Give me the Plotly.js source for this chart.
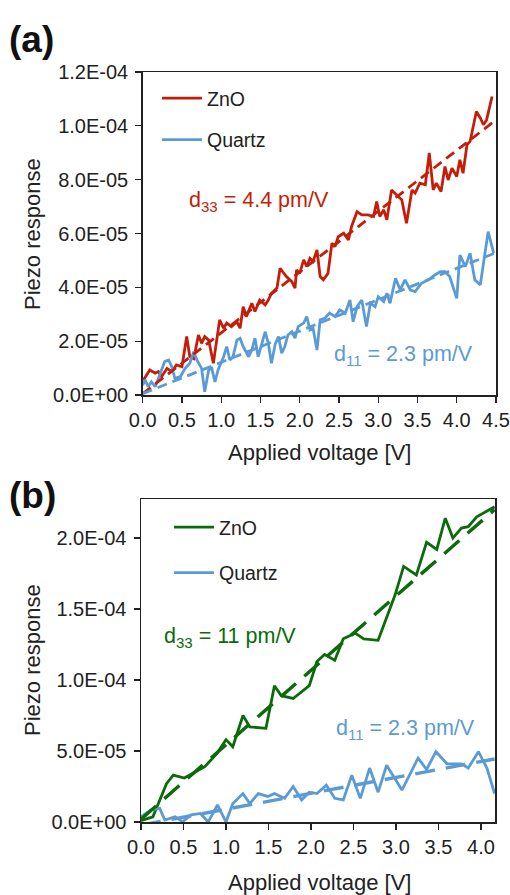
<!DOCTYPE html>
<html>
<head>
<meta charset="utf-8">
<script src="https://cdn.plot.ly/plotly-3.0.1.min.js"></script>
<style>
  html, body { margin: 0; padding: 0; background: #fff; }
  #chart { width: 510px; height: 895px; }
</style>
</head>
<body>
<div id="chart"></div>
<script>
// ---------- Panel (a) data ----------
const znoA_V = [0.01,0.09,0.16,0.2,0.24,0.31,0.37,0.43,0.5,0.56,0.6,0.65,0.71,0.75,0.79,0.84,0.9,0.98,1.03,1.07,1.13,1.2,1.24,1.28,1.32,1.39,1.43,1.49,1.56,1.6,1.64,1.71,1.75,1.83,1.9,1.94,1.96,2.0,2.05,2.09,2.13,2.17,2.22,2.26,2.3,2.36,2.41,2.45,2.49,2.56,2.62,2.66,2.73,2.79,2.87,2.94,2.98,3.02,3.07,3.11,3.17,3.24,3.3,3.36,3.43,3.47,3.53,3.6,3.65,3.7,3.74,3.8,3.85,3.89,3.94,4.0,4.04,4.08,4.13,4.17,4.25,4.3,4.34,4.38,4.45];
const znoA_R = [0.56e-5,0.93e-5,0.81e-5,0.87e-5,0.68e-5,0.99e-5,0.87e-5,1.12e-5,1.05e-5,2.17e-5,1.42e-5,1.35e-5,2.23e-5,1.92e-5,2.17e-5,2.04e-5,1.18e-5,2.79e-5,2.48e-5,2.67e-5,2.54e-5,2.72e-5,2.48e-5,3.28e-5,2.91e-5,3.41e-5,3.1e-5,3.53e-5,3.35e-5,3.53e-5,3.78e-5,3.97e-5,4.71e-5,4.4e-5,4.21e-5,3.97e-5,4.65e-5,4.52e-5,5.02e-5,4.77e-5,5.08e-5,4.96e-5,5.39e-5,4.4e-5,4.28e-5,4.52e-5,5.64e-5,5.51e-5,5.88e-5,6.01e-5,5.76e-5,6.26e-5,6.81e-5,6.69e-5,6.69e-5,6.63e-5,7.19e-5,6.63e-5,6.88e-5,6.51e-5,7.62e-5,7.43e-5,7.25e-5,6.38e-5,7.62e-5,7.5e-5,7.87e-5,7.81e-5,8.99e-5,7.62e-5,7.87e-5,7.56e-5,8.49e-5,7.99e-5,8.43e-5,8.12e-5,8.74e-5,8.24e-5,9.29e-5,9.42e-5,10.53e-5,10.29e-5,10.04e-5,10.22e-5,11.09e-5];
const qzA_V = [0.0,0.03,0.07,0.11,0.16,0.22,0.28,0.33,0.37,0.41,0.48,0.54,0.6,0.65,0.69,0.75,0.79,0.84,0.88,0.92,0.96,1.03,1.07,1.11,1.15,1.2,1.24,1.28,1.35,1.39,1.43,1.47,1.52,1.56,1.6,1.64,1.69,1.73,1.77,1.81,1.85,1.9,1.94,1.98,2.05,2.09,2.13,2.17,2.22,2.26,2.32,2.38,2.45,2.51,2.58,2.64,2.68,2.73,2.79,2.85,2.9,2.96,3.0,3.07,3.11,3.15,3.22,3.28,3.34,3.41,3.47,3.55,3.64,3.72,3.79,3.85,3.91,4.0,4.04,4.11,4.17,4.23,4.3,4.34,4.4,4.47];
const qzA_R = [0.37e-5,0.56e-5,0.31e-5,0.49e-5,0.31e-5,0.81e-5,1.24e-5,1.3e-5,1.05e-5,0.62e-5,0.68e-5,0.99e-5,1.18e-5,1.61e-5,1.3e-5,0.99e-5,0.12e-5,0.93e-5,0.99e-5,0.49e-5,0.93e-5,1.42e-5,1.8e-5,1.3e-5,1.42e-5,2.04e-5,2.11e-5,1.8e-5,1.42e-5,1.67e-5,2.11e-5,1.42e-5,1.98e-5,2.35e-5,1.92e-5,1.18e-5,1.92e-5,2.17e-5,1.55e-5,1.8e-5,2.23e-5,2.35e-5,2.11e-5,2.54e-5,2.67e-5,2.91e-5,2.42e-5,2.48e-5,1.67e-5,2.79e-5,2.85e-5,3.04e-5,2.91e-5,3.16e-5,3.04e-5,3.53e-5,2.72e-5,3.28e-5,3.53e-5,2.54e-5,3.41e-5,3.28e-5,3.65e-5,3.47e-5,3.78e-5,3.41e-5,4.34e-5,3.9e-5,4.28e-5,3.9e-5,3.84e-5,4.15e-5,4.28e-5,4.46e-5,4.58e-5,4.58e-5,4.4e-5,3.59e-5,5.2e-5,4.77e-5,5.27e-5,4.28e-5,4.09e-5,4.96e-5,6.07e-5,5.27e-5];
const fitA_V = [0, 4.5];
const fitZnoA = [0.05e-5, 10.22e-5];
const fitQzA = [0.05e-5, 5.29e-5];

// ---------- Panel (b) data ----------
const znoB_V = [0,0.14,0.3,0.38,0.51,0.75,0.89,1.0,1.08,1.2,1.28,1.47,1.57,1.65,1.79,1.98,2.07,2.16,2.28,2.38,2.52,2.62,2.79,2.99,3.09,3.24,3.36,3.48,3.58,3.67,3.77,3.85,3.95,4.16];
const znoB_R = [0.1e-5,0.37e-5,2.7e-5,3.3e-5,3.1e-5,3.9e-5,4.8e-5,5.8e-5,5.3e-5,7.5e-5,6.7e-5,6.6e-5,9.6e-5,8.9e-5,8.7e-5,9.6e-5,11.3e-5,11.8e-5,11.4e-5,12.9e-5,13.3e-5,12.9e-5,12.8e-5,16.0e-5,18.0e-5,17.4e-5,19.7e-5,19.2e-5,21.4e-5,20.0e-5,20.7e-5,20.8e-5,21.5e-5,22.2e-5];
const qzB_V = [0,0.12,0.22,0.28,0.4,0.49,0.59,0.7,0.79,0.9,1.0,1.08,1.2,1.28,1.38,1.49,1.57,1.69,1.79,1.89,1.98,2.07,2.18,2.28,2.38,2.48,2.58,2.69,2.79,2.89,3.07,3.26,3.36,3.47,3.6,3.77,3.85,3.97,4.07,4.16];
const qzB_R = [0.37e-5,0.85e-5,0.96e-5,0.14e-5,0.37e-5,0.02e-5,0.5e-5,0.6e-5,0.0,1.2e-5,0.0,1.3e-5,2.0e-5,1.3e-5,2.0e-5,1.8e-5,2.0e-5,1.67e-5,2.5e-5,1.55e-5,2.1e-5,2.0e-5,2.6e-5,1.67e-5,1.55e-5,3.3e-5,1.67e-5,3.8e-5,2.1e-5,4.0e-5,2.25e-5,4.5e-5,3.7e-5,4.95e-5,4.1e-5,4.1e-5,3.8e-5,4.95e-5,3.8e-5,2.0e-5];
const fitB_V = [0, 4.16];
const fitZnoB = [0.2e-5, 22.0e-5];
const fitQzB = [-0.22e-5, 4.44e-5];

// ---------- Tick labels ----------
const yTickValsA = [0, 2e-5, 4e-5, 6e-5, 8e-5, 1.0e-4, 1.2e-4];
const yTickTextA = ["0.0E+00","2.0E-05","4.0E-05","6.0E-05","8.0E-05","1.0E-04","1.2E-04"];
const yTickValsB = [0, 5e-5, 1.0e-4, 1.5e-4, 2.0e-4];
const yTickTextB = ["0.0E+00","5.0E-05","1.0E-04","1.5E-04","2.0E-04"];

const RED = "#C41E0A", BLUE = "#5B9BD5", GREEN = "#0B6B0B";
const FONT = "Liberation Sans, Arial, sans-serif";

const traces = [
  {x: znoA_V, y: znoA_R, mode: "lines", name: "ZnO", line: {color: RED, width: 2.8}, xaxis: "x", yaxis: "y", legend: "legend", legendgroup: "a1"},
  {x: qzA_V, y: qzA_R, mode: "lines", name: "Quartz", line: {color: BLUE, width: 2.8}, xaxis: "x", yaxis: "y", legend: "legend", legendgroup: "a2"},
  {x: fitA_V, y: fitZnoA, mode: "lines", showlegend: false, line: {color: RED, width: 2.8, dash: "10px,6px"}, xaxis: "x", yaxis: "y"},
  {x: fitA_V, y: fitQzA, mode: "lines", showlegend: false, line: {color: BLUE, width: 2.8, dash: "10px,6px"}, xaxis: "x", yaxis: "y"},
  {x: znoB_V, y: znoB_R, mode: "lines", name: "ZnO", line: {color: GREEN, width: 2.8}, xaxis: "x2", yaxis: "y2", legend: "legend2", legendgroup: "b1"},
  {x: qzB_V, y: qzB_R, mode: "lines", name: "Quartz", line: {color: BLUE, width: 2.8}, xaxis: "x2", yaxis: "y2", legend: "legend2", legendgroup: "b2"},
  {x: fitB_V, y: fitZnoB, mode: "lines", showlegend: false, line: {color: GREEN, width: 3.4, dash: "20px,11px"}, xaxis: "x2", yaxis: "y2"},
  {x: fitB_V, y: fitQzB, mode: "lines", showlegend: false, line: {color: BLUE, width: 3.4, dash: "20px,11px"}, xaxis: "x2", yaxis: "y2"}
];

const W = 510, H = 895;
const px = v => v / W;
const py = v => 1 - v / H;

const axCommon = {
  showline: true, linecolor: "#222", linewidth: 1.5, mirror: true,
  ticks: "outside", ticklen: 6, tickwidth: 1.3, tickcolor: "#222",
  showgrid: false, zeroline: false, fixedrange: true,
  tickfont: {family: FONT, size: 20, color: "#222"}
};

const layout = {
  width: W, height: H,
  margin: {l: 0, r: 0, t: 0, b: 0},
  paper_bgcolor: "#fff", plot_bgcolor: "#fff",
  font: {family: FONT, color: "#222"},
  xaxis: Object.assign({}, axCommon, {domain: [px(142.7), px(496)], range: [0, 4.5], dtick: 0.5, tick0: 0, tickformat: ".1f", anchor: "y", ticklabelstandoff: 0}),
  yaxis: Object.assign({}, axCommon, {domain: [py(395), py(72)], range: [0, 1.2e-4], tickvals: yTickValsA, ticktext: yTickTextA, anchor: "x", ticklabelstandoff: 3}),
  xaxis2: Object.assign({}, axCommon, {domain: [px(141), px(495)], range: [0, 4.165], dtick: 0.5, tick0: 0, tickformat: ".1f", anchor: "y2", ticklabelstandoff: 0}),
  yaxis2: Object.assign({}, axCommon, {domain: [py(822), py(499)], range: [0, 2.275e-4], tickvals: yTickValsB, ticktext: yTickTextB, anchor: "x2", ticklabelstandoff: 3}),
  showlegend: true,
  legend: {x: px(157), y: py(79), xanchor: "left", yanchor: "top", bgcolor: "rgba(0,0,0,0)",
           font: {family: FONT, size: 19.5, color: "#222"}, tracegroupgap: 13, itemwidth: 40},
  legend2: {x: px(169), y: py(508), xanchor: "left", yanchor: "top", bgcolor: "rgba(0,0,0,0)",
           font: {family: FONT, size: 19.5, color: "#222"}, tracegroupgap: 17, itemwidth: 40},
  annotations: [
    {text: "<b>(a)</b>", x: px(7), y: py(40), xref: "paper", yref: "paper", xanchor: "left", yanchor: "middle", showarrow: false, font: {family: FONT, size: 37, color: "#111"}},
    {text: "<b>(b)</b>", x: px(7), y: py(495), xref: "paper", yref: "paper", xanchor: "left", yanchor: "middle", showarrow: false, font: {family: FONT, size: 37, color: "#111"}},
    {text: "Piezo response", x: px(32), y: py(234), xref: "paper", yref: "paper", xanchor: "center", yanchor: "middle", textangle: -90, showarrow: false, font: {family: FONT, size: 22, color: "#222"}},
    {text: "Piezo response", x: px(32), y: py(660), xref: "paper", yref: "paper", xanchor: "center", yanchor: "middle", textangle: -90, showarrow: false, font: {family: FONT, size: 22, color: "#222"}},
    {text: "Applied voltage [V]", x: px(319), y: py(452), xref: "paper", yref: "paper", xanchor: "center", yanchor: "middle", showarrow: false, font: {family: FONT, size: 22, color: "#222"}},
    {text: "Applied voltage [V]", x: px(319), y: py(882), xref: "paper", yref: "paper", xanchor: "center", yanchor: "middle", showarrow: false, font: {family: FONT, size: 22, color: "#222"}},
    {text: "d<sub>33</sub> = 4.4 pm/V", x: px(187), y: py(201), xref: "paper", yref: "paper", xanchor: "left", yanchor: "middle", showarrow: false, font: {family: FONT, size: 21.5, color: RED}},
    {text: "d<sub>11</sub> = 2.3 pm/V", x: px(332), y: py(355), xref: "paper", yref: "paper", xanchor: "left", yanchor: "middle", showarrow: false, font: {family: FONT, size: 21.5, color: BLUE}},
    {text: "d<sub>33</sub> = 11 pm/V", x: px(162), y: py(637), xref: "paper", yref: "paper", xanchor: "left", yanchor: "middle", showarrow: false, font: {family: FONT, size: 21.5, color: GREEN}},
    {text: "d<sub>11</sub> = 2.3 pm/V", x: px(334), y: py(729), xref: "paper", yref: "paper", xanchor: "left", yanchor: "middle", showarrow: false, font: {family: FONT, size: 21.5, color: BLUE}}
  ]
};

Plotly.newPlot("chart", traces, layout, {staticPlot: true, displayModeBar: false});
</script>
</body>
</html>
